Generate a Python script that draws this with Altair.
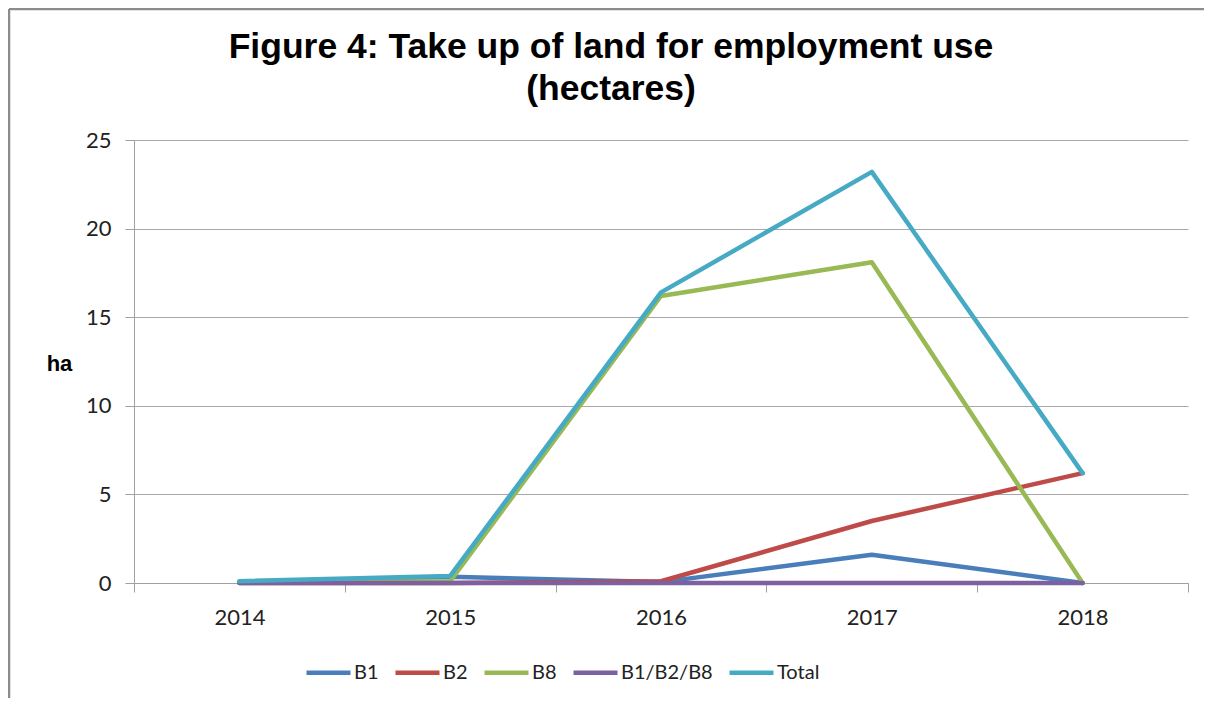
import altair as alt
import pandas as pd

years = ["2014", "2015", "2016", "2017", "2018"]
series_names = ["B1", "B2", "B8", "B1/B2/B8", "Total"]
b1 = [0.05, 0.35, 0.05, 1.6, 0.0]
b2 = [0.0, 0.0, 0.1, 3.5, 6.2]
b8 = [0.05, 0.1, 16.2, 18.1, 0.0]
b1b2b8 = [0.0, 0.0, 0.0, 0.0, 0.0]
total = [0.1, 0.4, 16.4, 23.2, 6.2]
colors = ["#4A7EBB", "#BE4B48", "#98B954", "#7D60A0", "#46AAC5"]

rows = []
for name, vals in zip(series_names, [b1, b2, b8, b1b2b8, total]):
    for y, v in zip(years, vals):
        rows.append({"Year": y, "Series": name, "ha": v})
df = pd.DataFrame(rows)

lines = alt.Chart(df).mark_line(strokeWidth=4.5, strokeCap="round", strokeJoin="round").encode(
    x=alt.X("Year:O", bandPosition=0.5,
            scale=alt.Scale(type="band", paddingInner=0, paddingOuter=0),
            axis=alt.Axis(title=None, labelAngle=0, tickBand="extent", tickSize=9,
                          labelPadding=15, labelFontSize=22, labelFont="Lato",
                          labelColor="#222222", domainColor="#a0a0a0", tickColor="#a0a0a0",
                          grid=False)),
    y=alt.Y("ha:Q", scale=alt.Scale(domain=[0, 25], nice=False),
            axis=alt.Axis(values=[0, 5, 10, 15, 20, 25], title="ha", titleAngle=0,
                          titleX=-75, titleY=223, titleAlign="center", titleBaseline="middle",
                          titleFont="Liberation Sans", titleFontSize=22, titleFontWeight="bold",
                          titleColor="#000000", labelFont="Lato", labelFontSize=22,
                          labelColor="#222222", tickSize=9, labelPadding=14,
                          gridColor="#a8a8a8", domainColor="#a0a0a0", tickColor="#a0a0a0")),
    color=alt.Color("Series:N", scale=alt.Scale(domain=series_names, range=colors),
                    legend=alt.Legend(title=None, orient="none", direction="horizontal",
                                      legendX=170, legendY=508, symbolType="stroke",
                                      symbolSize=1936, symbolStrokeWidth=4.5,
                                      labelFont="Lato", labelFontSize=20, labelColor="#222222",
                                      labelOffset=1, columnPadding=7)),
)

frame_src = pd.DataFrame({"k": [0]})
frame_top = alt.Chart(frame_src).mark_rule(stroke="#8c8c8c", strokeWidth=2.5).encode(
    x=alt.value(-125), x2=alt.value(1400), y=alt.value(-131))
frame_left = alt.Chart(frame_src).mark_rule(stroke="#8c8c8c", strokeWidth=2.5).encode(
    x=alt.value(-125), y=alt.value(-131), y2=alt.value(700))

chart = alt.layer(frame_top, frame_left, lines).properties(
    width=1054, height=443,
    padding={"left": 126, "top": 132, "right": 16, "bottom": 115},
    autosize=alt.AutoSizeParams(type="none"),
    title=alt.TitleParams(
        text=["Figure 4: Take up of land for employment use", "(hectares)"],
        font="Liberation Sans", fontSize=35.5, fontWeight="bold", color="#000000",
        lineHeight=42, anchor="middle", dx=-50, offset=-100),
).configure_view(stroke=None)

chart.save("out.html", embed_options={"renderer": "svg", "actions": False})
